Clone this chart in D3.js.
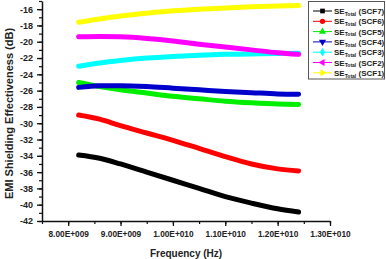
<!DOCTYPE html>
<html>
<head>
<meta charset="utf-8">
<script src="https://cdn.jsdelivr.net/npm/d3@7"></script>
<style>
  body { margin: 0; background: #fff; }
  text { font-family: Arial, "Liberation Sans", sans-serif; font-weight: bold; fill: #222; }
</style>
</head>
<body>
<script>
// frequency points (GHz)
const freqs = [8.2, 8.6, 9.0, 9.5, 10.0, 10.5, 11.0, 11.5, 12.0, 12.4];

// SE total (dB) for each sample
const scf7 = [-33.9, -34.3, -35.0, -36.0, -37.0, -38.0, -39.0, -39.8, -40.5, -40.9];
const scf6 = [-29.0, -29.5, -30.3, -31.2, -32.1, -33.1, -34.1, -35.0, -35.6, -35.85];
const scf5 = [-25.0, -25.5, -25.9, -26.3, -26.7, -27.0, -27.3, -27.5, -27.65, -27.7];
const scf4 = [-25.6, -25.4, -25.4, -25.5, -25.7, -25.9, -26.1, -26.25, -26.4, -26.45];
const scf3 = [-23.0, -22.6, -22.3, -22.0, -21.8, -21.65, -21.55, -21.5, -21.45, -21.4];
const scf2 = [-19.4, -19.35, -19.4, -19.6, -19.9, -20.3, -20.65, -21.0, -21.35, -21.55];
const scf1 = [-17.6, -17.2, -16.85, -16.5, -16.2, -16.0, -15.85, -15.7, -15.6, -15.55];

const seriesNames = ["SCF7", "SCF6", "SCF5", "SCF4", "SCF3", "SCF2", "SCF1"];
const seriesColors = ["#000000", "#ff0000", "#00ee00", "#0000cc", "#00ffff", "#ff00ff", "#ffff00"];
const seriesValues = [scf7, scf6, scf5, scf4, scf3, scf2, scf1];

const xTicks = [8e9, 9e9, 1e10, 1.1e10, 1.2e10, 1.3e10];
const yTicks = [-42, -40, -38, -36, -34, -32, -30, -28, -26, -24, -22, -20, -18, -16];

const WIDTH = 386;
const HEIGHT = 259;

const svg = d3.select("body")
  .append("svg")
  .attr("width", WIDTH)
  .attr("height", HEIGHT);

const xScale = d3.scaleLinear()
  .domain([7.5e9, 1.3e10])
  .range([42, 330]);

const yScale = d3.scaleLinear()
  .domain([-42, -15])
  .range([221, 1]);

const fmtX = v => v < 1e10
  ? (v / 1e9).toFixed(2) + "E+009"
  : (v / 1e10).toFixed(2) + "E+010";

// minor ticks
svg.append("g")
  .attr("transform", "translate(0," + yScale(-42) + ")")
  .call(d3.axisBottom(xScale).tickValues(d3.range(7.5e9, 1.3e10 + 1, 5e8)).tickSize(3).tickFormat(""))
  .call(g => g.select(".domain").remove())
  .selectAll("line").attr("stroke", "#111").attr("stroke-width", 1.2);

svg.append("g")
  .attr("transform", "translate(" + xScale(7.5e9) + ",0)")
  .call(d3.axisLeft(yScale).tickValues(d3.range(-42, -14, 1)).tickSize(3).tickFormat(""))
  .call(g => g.select(".domain").remove())
  .selectAll("line").attr("stroke", "#111").attr("stroke-width", 1.2);

// major axes
const xAxis = svg.append("g")
  .attr("transform", "translate(0," + yScale(-42) + ")")
  .call(d3.axisBottom(xScale).tickValues(xTicks).tickSize(5).tickSizeOuter(0).tickPadding(5).tickFormat(fmtX));
xAxis.select(".domain").attr("stroke", "#111").attr("stroke-width", 1.5);
xAxis.selectAll("line").attr("stroke", "#111").attr("stroke-width", 1.3);
xAxis.selectAll("text").style("font-size", "8.3px").attr("fill", "#222");

const yAxis = svg.append("g")
  .attr("transform", "translate(" + xScale(7.5e9) + ",0)")
  .call(d3.axisLeft(yScale).tickValues(yTicks).tickSize(5).tickSizeOuter(0).tickPadding(4).tickFormat(d => String(d)));
yAxis.select(".domain").attr("stroke", "#111").attr("stroke-width", 1.5);
yAxis.selectAll("line").attr("stroke", "#111").attr("stroke-width", 1.3);
yAxis.selectAll("text").style("font-size", "9px").attr("fill", "#222");

// axis titles
svg.append("text")
  .attr("x", (xScale(7.5e9) + xScale(1.3e10)) / 2)
  .attr("y", 256.5)
  .attr("text-anchor", "middle")
  .style("font-size", "10px")
  .text("Frequency (Hz)");

svg.append("text")
  .attr("transform", "translate(12.5," + 113.5 + ") rotate(-90)")
  .attr("text-anchor", "middle")
  .style("font-size", "11px")
  .text("EMI Shielding Effectiveness (dB)");

// curves
const line = d3.line()
  .x(d => xScale(d[0] * 1e9))
  .y(d => yScale(d[1]))
  .curve(d3.curveMonotoneX);

seriesValues.forEach((vals, i) => {
  svg.append("path")
    .datum(freqs.map((f, j) => [f, vals[j]]))
    .attr("fill", "none")
    .attr("stroke", seriesColors[i])
    .attr("stroke-width", 5)
    .attr("stroke-linecap", "round")
    .attr("d", line);
});

// legend
const legend = svg.append("g");
legend.append("rect")
  .attr("x", 308.5).attr("y", 1.5)
  .attr("width", 76).attr("height", 77.5)
  .attr("fill", "#fff")
  .attr("stroke", "#555")
  .attr("stroke-width", 1);

const symbols = [
  [d3.symbolSquare, 0], [d3.symbolCircle, 0], [d3.symbolTriangle, 0],
  [d3.symbolTriangle, 180], [d3.symbolDiamond, 0], [d3.symbolTriangle, -90], [d3.symbolTriangle, 90]
];

seriesNames.forEach((name, i) => {
  const y = 11 + i * 10.3;
  const g = legend.append("g").attr("transform", "translate(0," + y + ")");
  g.append("line")
    .attr("x1", 313).attr("x2", 332)
    .attr("stroke", seriesColors[i]).attr("stroke-width", 1);
  g.append("path")
    .attr("d", d3.symbol().type(symbols[i][0]).size(22)())
    .attr("transform", "translate(322.5,0) rotate(" + symbols[i][1] + ")")
    .attr("fill", seriesColors[i]);
  const t = g.append("text")
    .attr("x", 334).attr("y", 3)
    .style("font-size", "8px");
  t.append("tspan").text("SE");
  t.append("tspan").attr("dy", 1.8).style("font-size", "5px").text("Total");
  t.append("tspan").attr("dy", -1.8).text(" (" + name + ")");
});
</script>
</body>
</html>
